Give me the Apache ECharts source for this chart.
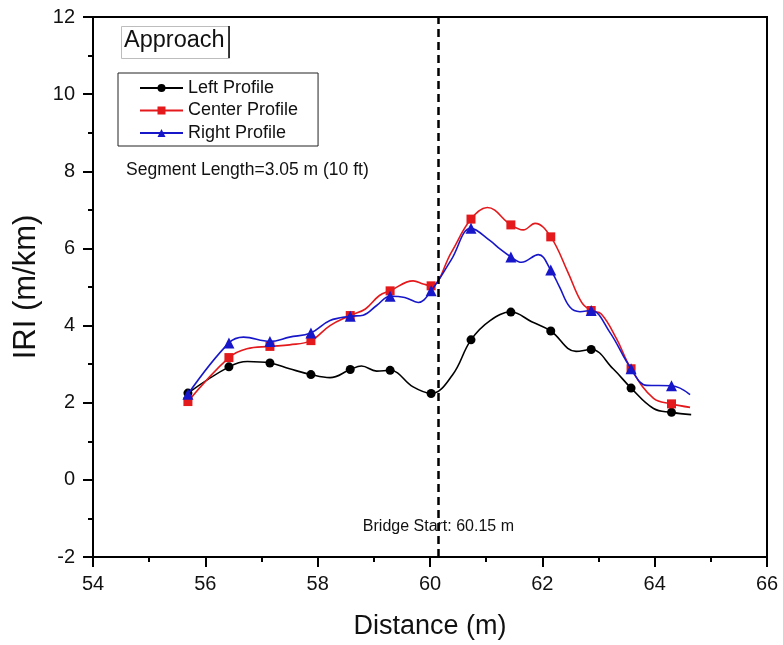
<!DOCTYPE html>
<html>
<head>
<meta charset="utf-8">
<script src="https://cdn.jsdelivr.net/npm/echarts@6/dist/echarts.min.js"></script>
<style>
html,body{margin:0;padding:0;background:#fff;}
#chart{width:783px;height:645px;}
</style>
</head>
<body>
<div id="chart"></div>
<script>
// ---- data ----
const seriesNames = ['Left Profile', 'Center Profile', 'Right Profile'];
const markerDistance = [55.69, 56.42, 57.15, 57.88, 58.58, 59.29, 60.02, 60.73, 61.44, 62.15, 62.87, 63.58, 64.30];
const leftIRI   = [2.25, 2.93, 3.03, 2.73, 2.86, 2.84, 2.24, 3.63, 4.35, 3.86, 3.38, 2.38, 1.75];
const centerIRI = [2.03, 3.17, 3.46, 3.61, 4.26, 4.90, 5.03, 6.76, 6.61, 6.30, 4.39, 2.88, 1.97];
const rightIRI  = [2.22, 3.55, 3.59, 3.81, 4.24, 4.76, 4.90, 6.52, 5.78, 5.44, 4.39, 2.88, 2.44];
// intermediate points of the fitted curves (no marker)
const leftCurveX   = [56.75, 57.50, 58.22, 58.78, 59.05, 59.70, 60.40, 61.07, 61.81, 62.60, 63.26, 63.98, 64.65];
const leftCurveY   = [3.07, 2.88, 2.65, 2.95, 2.82, 2.41, 2.72, 4.13, 4.10, 3.33, 2.88, 1.85, 1.69];
const centerCurveX = [56.74, 57.50, 58.22, 58.85, 59.10, 59.70, 59.88, 60.38, 61.02, 61.66, 61.87, 62.45, 62.70, 63.05, 63.32, 63.98, 64.63];
const centerCurveY = [3.40, 3.50, 4.00, 4.43, 4.78, 5.16, 5.08, 5.90, 7.06, 6.48, 6.65, 5.40, 4.60, 4.30, 3.66, 2.11, 1.88];
const rightCurveX  = [56.68, 57.50, 58.22, 58.81, 59.05, 59.55, 59.79, 60.38, 61.07, 61.25, 61.63, 61.93, 62.31, 62.49, 62.67, 63.20, 63.86, 64.63];
const rightCurveY  = [3.70, 3.70, 4.13, 4.27, 4.52, 4.73, 4.60, 5.71, 6.20, 5.98, 5.64, 5.84, 4.99, 4.48, 4.36, 3.83, 2.45, 2.21];
const xTicks = {min: 54, max: 66, step: 2};
const yTicks = {min: -2, max: 12, step: 2};
const bridgeStart = 60.15;
const bridgeLabel = 'Bridge Start: 60.15 m';
const boxTitle = 'Approach';
const segmentNote = 'Segment Length=3.05 m (10 ft)';

// ---- build ----
function buildData(mY, cX, cY) {
  const pts = [];
  markerDistance.forEach((x, i) => pts.push({value: [x, mY[i]]}));
  cX.forEach((x, i) => pts.push({value: [x, cY[i]], symbol: 'none'}));
  pts.sort((a, b) => a.value[0] - b.value[0]);
  return pts;
}
const FONT = '"Liberation Sans", Arial, Helvetica, sans-serif';
const colors = ['#000000', '#e3191c', '#1717c9'];
const symbols = ['circle', 'rect', 'triangle'];
const symSizes = [9, 9, 11];
const datasets = [
  buildData(leftIRI, leftCurveX, leftCurveY),
  buildData(centerIRI, centerCurveX, centerCurveY),
  buildData(rightIRI, rightCurveX, rightCurveY)
];

const series = seriesNames.map((name, i) => ({
  name: name,
  type: 'line',
  data: datasets[i],
  smooth: 0.4,
  symbol: symbols[i],
  symbolSize: symSizes[i],
  showAllSymbol: true,
  itemStyle: {color: colors[i]},
  lineStyle: {color: colors[i], width: 1.6},
  emphasis: {disabled: true},
  z: 2 + i
}));
series.push({
  name: 'bridge',
  type: 'line',
  data: [],
  z: 10,
  markLine: {
    silent: true,
    symbol: ['none', 'none'],
    animation: false,
    label: {show: false},
    lineStyle: {color: '#000', type: [8, 5], width: 2.5},
    data: [{xAxis: bridgeStart}]
  },
  markPoint: {
    silent: true,
    animation: false,
    symbol: 'circle',
    symbolSize: 0,
    label: {show: true, position: 'inside', formatter: bridgeLabel, color: '#111', fontSize: 16, fontFamily: FONT},
    data: [{coord: [bridgeStart, -1.2]}]
  }
});

const chart = echarts.init(document.getElementById('chart'), null, {renderer: 'canvas'});
chart.setOption({
  animation: false,
  backgroundColor: '#fff',
  grid: {left: 93, right: 16, top: 17, bottom: 86, show: true, borderColor: '#000', borderWidth: 2, backgroundColor: 'transparent'},
  legend: {
    data: seriesNames,
    orient: 'vertical',
    left: 118, top: 73,
    itemWidth: 43, itemHeight: 10, itemGap: 4.5,
    padding: [6, 20, 4, 21],
    borderColor: '#222', borderWidth: 1,
    backgroundColor: '#fff',
    selectedMode: false,
    textStyle: {fontSize: 18, fontFamily: FONT, color: '#111'}
  },
  xAxis: {
    type: 'value', min: xTicks.min, max: xTicks.max, interval: xTicks.step,
    name: 'Distance (m)', nameLocation: 'middle', nameGap: 56,
    nameTextStyle: {fontSize: 27, fontFamily: FONT, color: '#111'},
    axisLine: {onZero: false, lineStyle: {color: '#000', width: 2}},
    axisTick: {inside: false, length: 10, lineStyle: {color: '#000', width: 2}},
    minorTick: {show: true, splitNumber: 2, length: 5, lineStyle: {color: '#000', width: 2}},
    splitLine: {show: false},
    axisLabel: {fontSize: 20, fontFamily: FONT, color: '#111', margin: 17}
  },
  yAxis: {
    type: 'value', min: yTicks.min, max: yTicks.max, interval: yTicks.step,
    name: 'IRI (m/km)', nameLocation: 'middle', nameGap: 49,
    nameTextStyle: {fontSize: 31, fontFamily: FONT, color: '#111'},
    axisLine: {onZero: false, lineStyle: {color: '#000', width: 2}},
    axisTick: {inside: false, length: 10, lineStyle: {color: '#000', width: 2}},
    minorTick: {show: true, splitNumber: 2, length: 5, lineStyle: {color: '#000', width: 2}},
    splitLine: {show: false},
    axisLabel: {fontSize: 20, fontFamily: FONT, color: '#111', margin: 18}
  },
  graphic: [
    {type: 'rect', left: 121, top: 26, z: 20, shape: {width: 108, height: 32},
     style: {fill: '#fff', stroke: '#bdbdbd', lineWidth: 1}},
    {type: 'line', z: 21, shape: {x1: 229, y1: 26, x2: 229, y2: 58}, style: {stroke: '#000', lineWidth: 1.5}},
    {type: 'text', left: 124, top: 29, z: 22,
     style: {text: boxTitle, fontSize: 23.5, fontFamily: FONT, fill: '#111'}},
    {type: 'text', left: 126, top: 161, z: 22,
     style: {text: segmentNote, fontSize: 17.5, fontFamily: FONT, fill: '#111'}}
  ],
  series: series
});
</script>
</body>
</html>
